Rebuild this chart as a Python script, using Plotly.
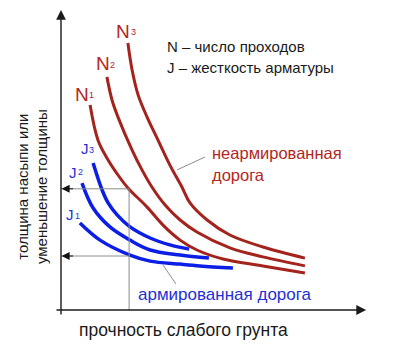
import plotly.graph_objects as go

# Soil strength (x) vs. fill thickness (y), schematic units 0..100
n1_x = [9.7, 12.3, 15.7, 19.0, 22.3, 28.7, 34.0, 39.7, 45.3, 54.0, 67.3, 81.3]
n1_y = [68.3, 56.7, 50.0, 45.0, 40.7, 34.3, 28.3, 23.3, 20.0, 17.0, 14.7, 12.3]
n2_x = [15.3, 17.0, 19.0, 23.7, 27.0, 30.3, 34.7, 39.7, 45.3, 56.3, 67.3, 81.3]
n2_y = [77.7, 70.0, 64.3, 53.3, 46.7, 41.0, 35.0, 30.0, 26.0, 20.7, 17.7, 14.7]
n3_x = [22.3, 23.7, 25.7, 28.7, 32.3, 36.3, 40.3, 43.0, 48.7, 56.3, 67.3, 81.3]
n3_y = [89.0, 80.0, 71.7, 64.3, 56.7, 48.3, 41.0, 35.7, 30.0, 25.0, 21.0, 17.3]

j1_x = [6.3, 13.0, 23.0, 29.7, 39.7, 46.3, 57.3]
j1_y = [29.0, 23.3, 18.3, 16.3, 15.3, 14.7, 14.0]
j2_x = [7.0, 10.7, 16.3, 23.0, 29.7, 39.7, 49.3]
j2_y = [42.3, 34.0, 27.7, 23.3, 20.0, 18.3, 17.3]
j3_x = [10.7, 13.7, 15.7, 18.7, 23.0, 29.7, 36.3, 42.7]
j3_y = [49.0, 40.0, 35.7, 31.7, 27.7, 24.0, 21.7, 20.3]

# Reading example: same soil strength, two required thicknesses
guide_x = 22.7
guide_y_unreinforced = 40.4
guide_y_reinforced = 18.0

RED = "#a3231d"
RED_TEXT = "#b3261e"
BLUE = "#0a1ee6"
BLUE_TEXT = "#1f2fd8"
AXIS = "#1a1a1a"
GUIDE = "#8c8c8c"
FONT = "Liberation Sans, Arial, sans-serif"

fig = go.Figure()

for xs, ys in [(n1_x, n1_y), (n2_x, n2_y), (n3_x, n3_y)]:
    fig.add_trace(go.Scatter(x=xs, y=ys, mode="lines",
                             line=dict(color=RED, width=3, shape="spline", smoothing=1.0),
                             hoverinfo="skip", showlegend=False))
for xs, ys in [(j1_x, j1_y), (j2_x, j2_y), (j3_x, j3_y)]:
    fig.add_trace(go.Scatter(x=xs, y=ys, mode="lines",
                             line=dict(color=BLUE, width=3.5, shape="spline", smoothing=1.0),
                             hoverinfo="skip", showlegend=False))

shapes = [
    # guide lines
    dict(type="line", x0=0, y0=guide_y_unreinforced, x1=guide_x, y1=guide_y_unreinforced,
         line=dict(color=GUIDE, width=1)),
    dict(type="line", x0=0, y0=guide_y_reinforced, x1=guide_x, y1=guide_y_reinforced,
         line=dict(color=GUIDE, width=1)),
    dict(type="line", x0=guide_x, y0=0, x1=guide_x, y1=guide_y_unreinforced,
         line=dict(color=GUIDE, width=1)),
    # leader lines for labels
    dict(type="line", x0=38.7, y0=46.7, x1=48.0, y1=51.0, line=dict(color=GUIDE, width=1)),
    dict(type="line", x0=34.0, y0=15.0, x1=38.3, y1=8.7, line=dict(color=GUIDE, width=1)),
]

annotations = []

def arrow(x, y, ax, ay, color=AXIS, width=1.4, size=1.4):
    annotations.append(dict(x=x, y=y, ax=ax, ay=ay, xref="x", yref="y", axref="x", ayref="y",
                            text="", showarrow=True, arrowhead=2, arrowsize=size,
                            arrowwidth=width, arrowcolor=color, standoff=0, startstandoff=0))

# axes with arrows
arrow(0, 100, 0, -2)
arrow(101.7, 0, -2, 0)
# guide arrows at the thickness axis
arrow(0.2, guide_y_unreinforced, 4.5, guide_y_unreinforced, color="#111", width=1, size=1.6)
arrow(0.2, guide_y_reinforced, 4.5, guide_y_reinforced, color="#111", width=1, size=1.6)

def text(x, y, s, size, color, xanchor="center", angle=0, ref="x"):
    annotations.append(dict(x=x, y=y, xref=ref, yref=ref.replace("x", "y"), text=s,
                            showarrow=False, xanchor=xanchor, yanchor="middle",
                            textangle=angle, align="center",
                            font=dict(family=FONT, size=size, color=color)))

# curve labels
for (lx, ly, dx, dy, d) in [(20.6, 92.8, 24.3, 92.8, "3"),
                             (14.0, 82.3, 17.2, 81.7, "2"),
                             (7.0, 71.8, 10.2, 71.7, "1")]:
    text(lx, ly, "N", 19, RED_TEXT)
    text(dx, dy, d, 9, RED_TEXT)
for (lx, ly, dx, dy, d) in [(7.9, 54.0, 10.2, 53.3, "3"),
                             (3.9, 45.8, 6.5, 46.0, "2"),
                             (3.1, 32.0, 5.5, 31.3, "1")]:
    text(lx, ly, "J", 15, BLUE_TEXT)
    text(dx, dy, d, 9, BLUE_TEXT)

# legend text
text(34.7, 87.7, "N – число проходов", 15, "#1a1a1a", xanchor="left")
text(34.7, 80.7, "J – жесткость арматуры", 15, "#1a1a1a", xanchor="left")

# series names
text(49.5, 52.3, "неармированная", 16.5, RED_TEXT, xanchor="left")
text(49.5, 45.0, "дорога", 16.5, RED_TEXT, xanchor="left")
text(25.0, 5.3, "армированная дорога", 17, BLUE_TEXT, xanchor="left")

# axis titles (paper coordinates, outside the plotting area)
text(0.4135, -0.035, "прочность слабого грунта", 17.5, "#1a1a1a", ref="paper")
text(-0.063, 0.418, "толщина насыпи или<br>уменьшение толщины", 15, "#1a1a1a",
     angle=-90, ref="paper")

fig.update_layout(
    width=400, height=350,
    margin=dict(l=52, r=30, t=1, b=31),
    paper_bgcolor="white", plot_bgcolor="white",
    xaxis=dict(range=[-3, 103], visible=False, fixedrange=True),
    yaxis=dict(range=[-3, 103], visible=False, fixedrange=True),
    shapes=shapes, annotations=annotations,
    showlegend=False,
)

fig.write_html("out.html", config={"displayModeBar": False})
